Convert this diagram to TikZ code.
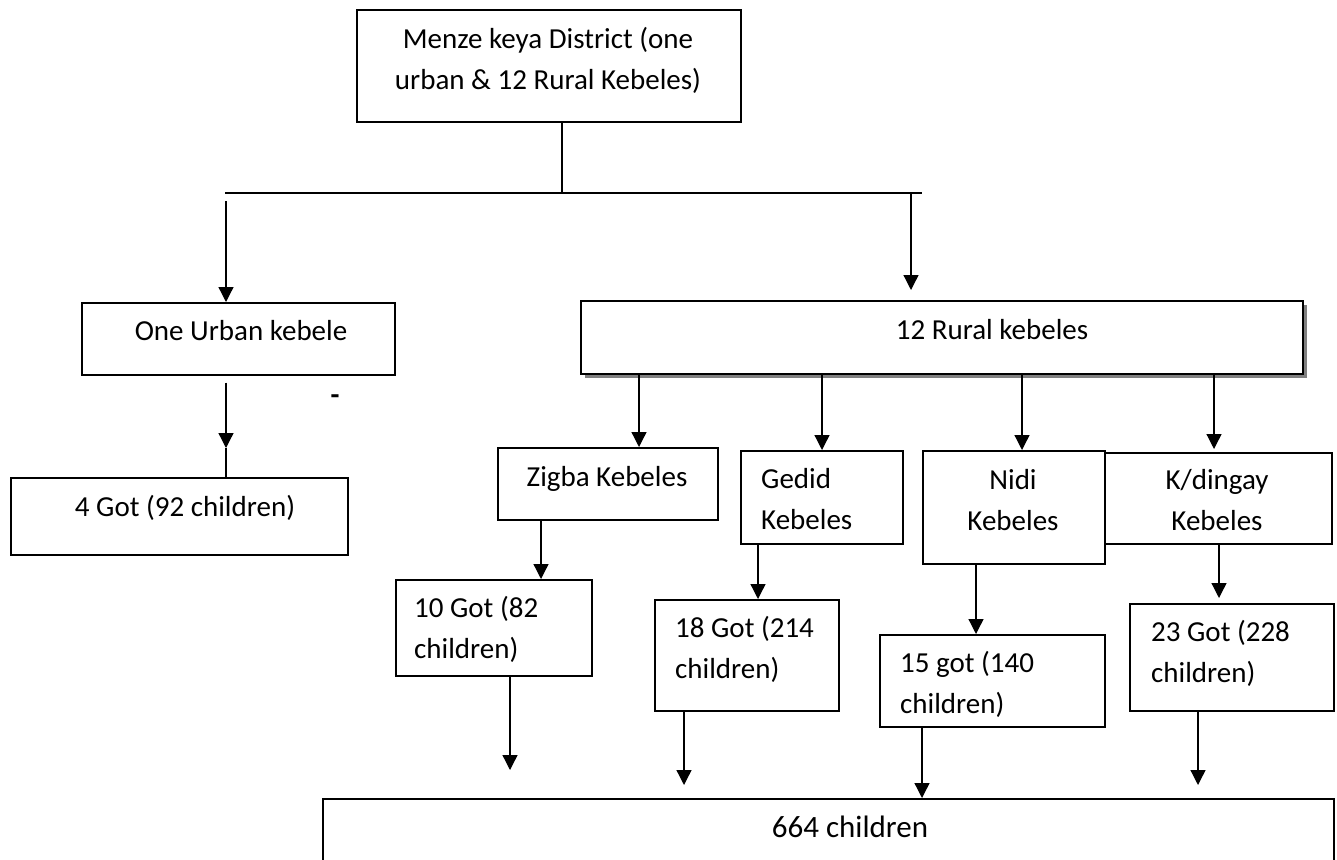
\documentclass[tikz,border=0pt]{standalone}
\usepackage{fontspec}
\setmainfont{Carlito}
\usetikzlibrary{arrows.meta,shadows}
\begin{document}
\begin{tikzpicture}[x=1pt,y=-1pt,
  box/.style={draw, line width=1.6pt, rectangle, inner sep=0pt, anchor=north west, fill=white},
  lbl/.style={font=\fontsize{29}{41}\selectfont, inner sep=0pt},
  conn/.style={line width=1.3pt},
  arr/.style={conn, -{Triangle[length=15pt,width=15pt]}}]
\useasboundingbox (0,0) rectangle (1337,859);
\fill[white] (0,0) rectangle (1337,859);

% boxes
\node[box, minimum width=384pt, minimum height=112pt] (top) at (356,9) {};
\node[box, minimum width=313pt, minimum height=72pt] (urban) at (81,302) {};
\node[box, minimum width=337pt, minimum height=77pt] (got4) at (10,477) {};
\node[box, minimum width=722pt, minimum height=73pt,
      drop shadow={shadow xshift=4pt, shadow yshift=-4pt, fill=black!50, opacity=1}] (rural) at (580,300) {};
\node[box, minimum width=220pt, minimum height=72pt] (zigba) at (497,447) {};
\node[box, minimum width=162pt, minimum height=93pt] (gedid) at (740,450) {};
\node[box, minimum width=182pt, minimum height=113pt] (nidi) at (922,450) {};
\node[box, minimum width=227pt, minimum height=91pt] (kding) at (1104,452) {};
\node[box, minimum width=196pt, minimum height=96pt] (got10) at (395,579) {};
\node[box, minimum width=184pt, minimum height=111pt] (got18) at (654,599) {};
\node[box, minimum width=225pt, minimum height=92pt] (got15) at (879,634) {};
\node[box, minimum width=204pt, minimum height=107pt] (got23) at (1129,603) {};
\node[box, minimum width=1011pt, minimum height=100pt] (total) at (322,798) {};

% texts (base anchor of a multi-line node = baseline of its last line)
\node[lbl, align=center, anchor=base] (ttop) at (548,89) {Menze keya District (one\\urban \& 12 Rural Kebeles)};
\node[lbl, anchor=base] (turban) at (241,340) {One Urban kebele};
\node[lbl, anchor=base] (tgot4) at (185,516) {4 Got (92 children)};
\node[lbl, anchor=base] (trural) at (992,339) {12 Rural kebeles};
\node[lbl, anchor=base] (tzigba) at (607,486) {Zigba Kebeles};
\node[lbl, align=left, anchor=base west] (tgedid) at (761,529) {Gedid\\Kebeles};
\node[lbl, align=center, anchor=base] (tnidi) at (1013,530) {Nidi\\Kebeles};
\node[lbl, align=center, anchor=base] (tkding) at (1217,530) {K/dingay\\Kebeles};
\node[lbl, align=left, anchor=base west] (tgot10) at (414,658) {10 Got (82\\children)};
\node[lbl, align=left, anchor=base west] (tgot18) at (675,678) {18 Got (214\\children)};
\node[lbl, align=left, anchor=base west] (tgot15) at (900,713) {15 got (140\\children)};
\node[lbl, align=left, anchor=base west] (tgot23) at (1151,682) {23 Got (228\\children)};
\node[lbl, font=\fontsize{31}{37}\selectfont, anchor=base] (ttotal) at (850,837) {664 children};
\node[lbl, font=\fontsize{29}{35}\selectfont\bfseries] (dash) at (335,400) {-};

% coordinates
\coordinate (j) at (562,193);
\coordinate (hl) at (225,193);
\coordinate (hr) at (922,193);
\coordinate (la) at (226,201);
\coordinate (ra) at (911,193);
\coordinate (ua) at (226,448);
\coordinate (xz) at (639,0);
\coordinate (xg) at (822,0);
\coordinate (xn) at (1022,0);
\coordinate (xk) at (1214,0);
\coordinate (x10) at (541,0);
\coordinate (x18) at (758,0);
\coordinate (x15) at (976,0);
\coordinate (x23) at (1219,0);
\coordinate (d10) at (510,0);
\coordinate (d18) at (684,0);
\coordinate (d15) at (922,0);
\coordinate (d23) at (1198,0);

% connectors
\draw[conn] (top.south -| j) -- (j);
\draw[conn] (hl) -- (hr);
\draw[arr] (la) -- (urban.north -| la);
\draw[arr, shorten >=10pt] (ra) -- (rural.north -| ra);
\draw[arr, shorten <=7pt] (urban.south -| ua) -- (ua);
\draw[conn] (ua) -- (got4.north -| ua);

\draw[arr] (rural.south -| xz) -- (zigba.north -| xz);
\draw[arr] (rural.south -| xg) -- (gedid.north -| xg);
\draw[arr] (rural.south -| xn) -- (nidi.north -| xn);
\draw[arr, shorten >=3pt] (rural.south -| xk) -- (kding.north -| xk);

\draw[arr] (zigba.south -| x10) -- (got10.north -| x10);
\draw[arr] (gedid.south -| x18) -- (got18.north -| x18);
\draw[arr] (nidi.south -| x15) -- (got15.north -| x15);
\draw[arr, shorten >=5pt] (kding.south -| x23) -- (got23.north -| x23);

\draw[arr, shorten >=28pt] (got10.south -| d10) -- (total.north -| d10);
\draw[arr, shorten >=13pt] (got18.south -| d18) -- (total.north -| d18);
\draw[arr] (got15.south -| d15) -- (total.north -| d15);
\draw[arr, shorten >=13pt] (got23.south -| d23) -- (total.north -| d23);
\end{tikzpicture}
\end{document}
